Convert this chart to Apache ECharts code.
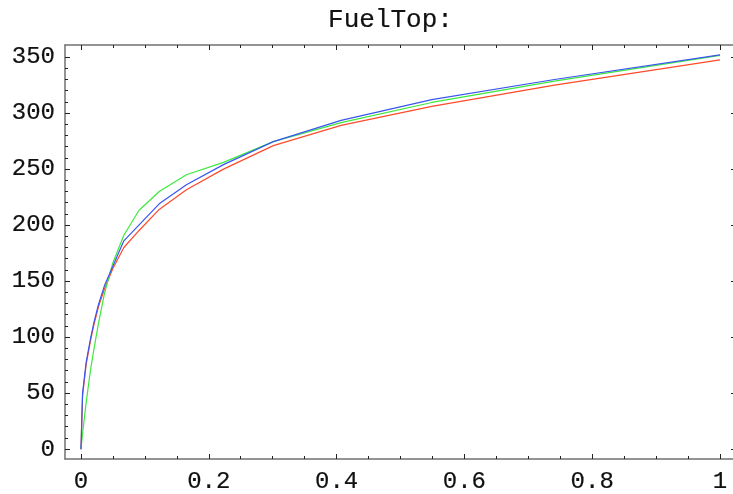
<!DOCTYPE html>
<html>
<head>
<meta charset="utf-8">
<script src="https://cdn.jsdelivr.net/npm/echarts@6/dist/echarts.min.js"></script>
<style>
html,body{margin:0;padding:0;background:#fff;}
#main{width:733px;height:494px;}
</style>
</head>
<body>
<div id="main"></div>
<script>
// ---- data ----
const titleText = 'FuelTop:';
const xs    = [0, 0.0025, 0.0082, 0.015, 0.0202, 0.0273, 0.0368, 0.0497, 0.0671, 0.0906, 0.1224, 0.165, 0.223, 0.301, 0.407, 0.549, 0.741, 1.0];
const red   = [0, 48, 76, 97, 111, 127, 143, 161, 180, 195, 214, 231.5, 250, 271, 289, 306, 325, 347.5];
const green = [0, 14, 42, 71, 89, 112, 139, 166, 191, 213, 230, 245, 256, 274.5, 291.5, 309.5, 328.5, 351.5];
const blue  = [0, 50, 78, 99, 113, 129, 146, 163, 186, 200, 219, 236, 254, 274.5, 293.5, 312, 330, 352];
const xLabels = [0, 0.2, 0.4, 0.6, 0.8, 1];
const xMinorTicks = [0,0.05,0.1,0.15,0.2,0.25,0.3,0.35,0.4,0.45,0.5,0.55,0.6,0.65,0.7,0.75,0.8,0.85,0.9,0.95,1];
const yLabels = [0, 50, 100, 150, 200, 250, 300, 350];
const yMinorTicks = [0,10,20,30,40,50,60,70,80,90,100,110,120,130,140,150,160,170,180,190,200,210,220,230,240,250,260,270,280,290,300,310,320,330,340,350];
const xRange = [-0.025, 1.025];
const yRange = [-8.8, 360.8];

const FONT = '"Liberation Mono", "DejaVu Sans Mono", monospace';
const frameColor = '#707070';
const tickColor = '#222';

function axis(kind, position, tickVals, tickLen, withLabels, withLine) {
  const range = kind === 'x' ? xRange : yRange;
  return {
    type: 'value',
    position: position,
    min: range[0],
    max: range[1],
    splitLine: {show: false},
    axisLine: {show: withLine, onZero: false, lineStyle: {color: frameColor, width: 1.5}},
    axisTick: {show: true, inside: true, length: tickLen, customValues: tickVals,
               lineStyle: {color: tickColor, width: 1}},
    axisLabel: {show: withLabels, customValues: withLabels ? (kind === 'x' ? xLabels : yLabels) : undefined,
                fontFamily: FONT, fontSize: 24, color: '#111',
                textBorderColor: '#111', textBorderWidth: 0.2,
                margin: kind === 'x' ? 11 : 10}
  };
}

const chart = echarts.init(document.getElementById('main'), null, {renderer: 'canvas'});
chart.setOption({
  animation: false,
  backgroundColor: '#fff',
  graphic: [{
    type: 'text', x: 390.5, y: 20,
    style: {text: titleText, font: '26px ' + FONT, fill: '#111', stroke: '#111', lineWidth: 0.2,
            textAlign: 'center', textVerticalAlign: 'middle', verticalAlign: 'middle'}
  }],
  grid: {left: 65, top: 45, right: -3, bottom: 35, containLabel: false, outerBoundsMode: 'none'},
  xAxis: [
    axis('x', 'bottom', xLabels, 5, true, true),
    axis('x', 'bottom', xMinorTicks, 3, false, false),
    axis('x', 'top', xLabels, 5, false, true),
    axis('x', 'top', xMinorTicks, 3, false, false)
  ],
  yAxis: [
    axis('y', 'left', yLabels, 5, true, true),
    axis('y', 'left', yMinorTicks, 3, false, false),
    axis('y', 'right', yLabels, 5, false, true),
    axis('y', 'right', yMinorTicks, 3, false, false)
  ],
  series: [
    {name: 'red', type: 'line', data: xs.map((x, i) => [x, red[i]]), showSymbol: false, symbol: 'none',
     lineStyle: {color: '#ff4a2a', width: 1.2}, z: 2},
    {name: 'green', type: 'line', data: xs.map((x, i) => [x, green[i]]), showSymbol: false, symbol: 'none',
     lineStyle: {color: '#3ee83e', width: 1.2}, z: 3},
    {name: 'blue', type: 'line', data: xs.map((x, i) => [x, blue[i]]), showSymbol: false, symbol: 'none',
     lineStyle: {color: '#3a55f0', width: 1.2}, z: 4}
  ]
});
</script>
</body>
</html>
